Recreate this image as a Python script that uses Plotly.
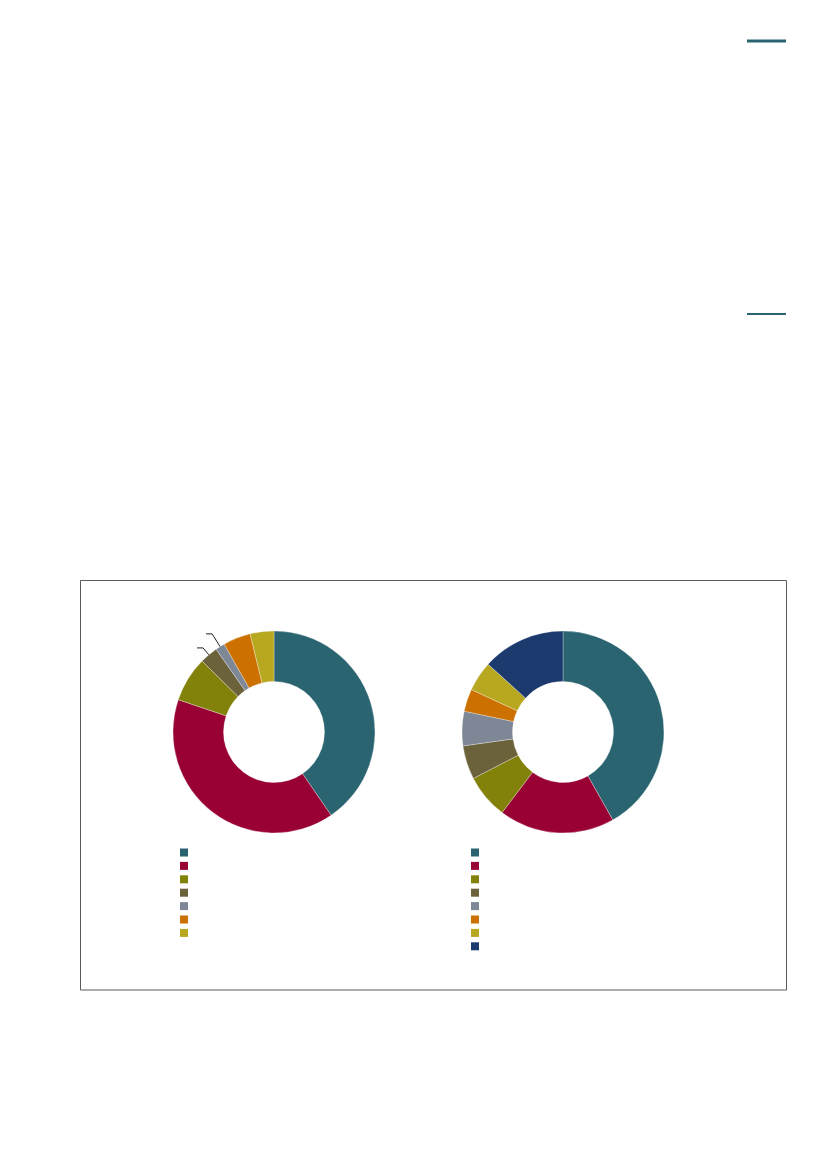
import math
import plotly.graph_objects as go

W, H = 827, 1169
OFF = 8  # page body margin

# left donut: shares (%), clockwise from 12 o'clock
left_labels = ["A1", "A2", "A3", "A4", "A5", "A6", "A7"]
left_values = [40.4, 39.7, 7.2, 2.9, 1.5, 4.4, 3.8]

# right donut
right_labels = ["B1", "B2", "B3", "B4", "B5", "B6", "B7", "B8"]
right_values = [41.8, 18.5, 7.1, 5.4, 5.5, 3.6, 4.8, 13.3]

colors = ["#2a6470", "#990033", "#82820a", "#6b623c", "#7d8796",
          "#cc7000", "#b8a820", "#1c3a6e"]

# slices that carry a leader line (index, radial extension in px)
leader_slices = [(3, 9), (4, 15)]


def px(x):
    return (x - OFF) / W


def py(y):
    return 1 - (y - OFF) / H


fig = go.Figure()

pies = [
    (left_labels, left_values, 173, 375),
    (right_labels, right_values, 462, 664),
]
for labels, values, x0, x1 in pies:
    fig.add_trace(go.Pie(
        labels=labels, values=values, hole=0.5, sort=False,
        direction="clockwise", rotation=0, textinfo="none",
        hoverinfo="label+percent", showlegend=False,
        marker=dict(colors=colors[:len(values)],
                    line=dict(color="rgba(255,255,255,0.6)", width=0.5)),
        domain=dict(x=[px(x0), px(x1)], y=[py(833), py(631)]),
    ))

# legend squares, one column per donut
for col, labels in enumerate([left_labels, right_labels]):
    fig.add_trace(go.Scatter(
        x=[col] * len(labels), y=list(range(len(labels))),
        mode="markers", showlegend=False, hoverinfo="skip",
        cliponaxis=False,
        marker=dict(symbol="square", size=8, color=colors[:len(labels)],
                    line=dict(width=0)),
    ))

fig.update_xaxes(domain=[px(184), px(475)], range=[0, 1], visible=False,
                 fixedrange=True)
fig.update_yaxes(domain=[py(953), py(845.8)], range=[7.5, -0.5],
                 visible=False, fixedrange=True)

shapes = [
    dict(type="rect", xref="paper", yref="paper",
         x0=px(80.5), x1=px(786.5), y0=py(990), y1=py(580.5),
         line=dict(color="#5a5a5a", width=1)),
    dict(type="line", xref="paper", yref="paper",
         x0=px(747), x1=px(786), y0=py(41), y1=py(41),
         line=dict(color="#2a6470", width=3)),
    dict(type="line", xref="paper", yref="paper",
         x0=px(747), x1=px(786), y0=py(314), y1=py(314),
         line=dict(color="#2a6470", width=2)),
]

# leader lines for the thin slices of the left donut
cx, cy, R = 274, 732, 101
total = sum(left_values)
for idx, ext in leader_slices:
    start = sum(left_values[:idx]) / total * 360
    mid = math.radians(start + left_values[idx] / total * 180)
    xa, ya = cx + R * math.sin(mid), cy - R * math.cos(mid)
    xb, yb = cx + (R + ext) * math.sin(mid), cy - (R + ext) * math.cos(mid)
    path = "M {:.4f} {:.4f} L {:.4f} {:.4f} L {:.4f} {:.4f}".format(
        px(xa), py(ya), px(xb), py(yb), px(xb - 6), py(yb))
    shapes.append(dict(type="path", xref="paper", yref="paper", path=path,
                       line=dict(color="#222222", width=1)))

fig.update_layout(
    width=W, height=H,
    margin=dict(l=0, r=0, t=0, b=0),
    paper_bgcolor="white", plot_bgcolor="white",
    shapes=shapes,
    font=dict(family="Liberation Sans", size=10, color="#333333"),
)

fig.write_html("out.html")
